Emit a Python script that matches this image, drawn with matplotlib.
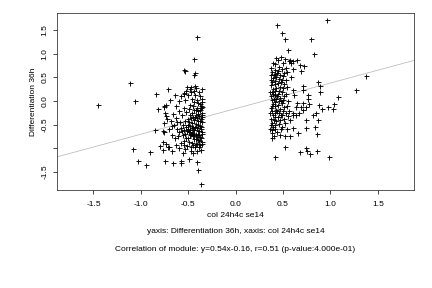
import matplotlib
matplotlib.use("Agg")
import matplotlib.pyplot as plt

plt.rcParams['font.family'] = ['Liberation Sans', 'DejaVu Sans']
plt.rcParams['axes.unicode_minus'] = False

# left cluster (col 24h4c se14 around -0.45)
left_pts = [
    (-1.45, -0.09), (-1.11, 0.38), (-1.06, 0.00), (-1.08, -1.01), (-1.03, -1.27), (-0.95, -1.34),
    (-0.90, -1.08), (-0.84, 0.15), (-0.82, -0.17), (-0.85, -0.61), (-0.76, -0.11), (-0.75, -1.27),
    (-0.71, 0.25), (-0.77, -0.87), (-0.77, -1.03), (-0.66, -1.31), (-0.58, -1.26), (-0.58, -1.30),
    (-0.49, -1.22), (-0.45, -1.10), (-0.41, -1.28), (-0.40, -1.46), (-0.37, -1.74), (-0.41, 1.34),
    (-0.44, 0.89), (-0.54, 0.66), (-0.53, 0.63), (-0.43, 0.60), (-0.44, 0.55),
    (-0.51, 0.30), (-0.47, 0.30), (-0.43, 0.32), (-0.64, 0.13), (-0.54, 0.16), (-0.69, 0.02),
    (-0.73, -0.08), (-0.76, -0.12), (-0.75, -0.26), (-0.63, -0.10), (-0.62, -0.44), (-0.76, -0.47),
    (-0.77, -0.63), (-0.76, -0.66), (-0.74, -0.31), (-0.67, -0.53), (-0.67, -0.72), (-0.80, -0.95),
    (-0.71, -0.97),
    (-0.36, -0.02), (-0.37, -0.10), (-0.38, -0.18), (-0.36, -0.25), (-0.39, -0.31), (-0.37, -0.38),
    (-0.36, -0.45), (-0.38, -0.52), (-0.37, -0.60), (-0.36, -0.66), (-0.39, -0.72), (-0.37, -0.79),
    (-0.36, -0.86), (-0.38, -0.93), (-0.40, -0.05), (-0.41, -0.14), (-0.40, -0.22), (-0.42, -0.29),
    (-0.41, -0.36), (-0.40, -0.43), (-0.42, -0.49), (-0.41, -0.56), (-0.40, -0.63), (-0.42, -0.69),
    (-0.41, -0.76), (-0.40, -0.83), (-0.42, -0.90), (-0.39, -0.97), (-0.44, -0.02), (-0.45, -0.11),
    (-0.44, -0.19), (-0.46, -0.26), (-0.45, -0.33), (-0.44, -0.40), (-0.46, -0.47), (-0.45, -0.54),
    (-0.44, -0.61), (-0.46, -0.68), (-0.45, -0.74), (-0.44, -0.81), (-0.46, -0.88), (-0.48, -0.08),
    (-0.49, -0.17), (-0.48, -0.30), (-0.50, -0.38), (-0.49, -0.45), (-0.48, -0.52), (-0.50, -0.59),
    (-0.49, -0.66), (-0.48, -0.72), (-0.50, -0.79), (-0.49, -0.86), (-0.52, -0.24), (-0.53, -0.42),
    (-0.52, -0.55), (-0.54, -0.62), (-0.53, -0.70), (-0.52, -0.77), (-0.54, -0.84), (-0.56, -0.50),
    (-0.57, -0.63), (-0.56, -0.71), (-0.58, -0.57), (-0.60, -0.66), (-0.61, -0.74), (-0.59, -0.45),
    (-0.62, -0.58), (-0.64, -0.79), (-0.63, -0.36), (-0.57, -0.30), (-0.55, -0.15), (-0.60, -0.22),
    (-0.66, -0.28), (-0.68, -0.42), (-0.65, -0.50), (-0.70, -0.60), (-0.72, -0.38), (-0.63, -0.92),
    (-0.58, -0.88), (-0.55, -0.93), (-0.51, -0.95), (-0.47, -0.98), (-0.43, -0.97), (-0.37, -1.03),
    (-0.41, -1.06), (-0.35, -0.70), (-0.35, -0.30), (-0.35, -0.12), (-0.36, 0.05), (-0.38, 0.10),
    (-0.41, 0.03), (-0.43, 0.12), (-0.46, 0.04), (-0.39, 0.18), (-0.42, 0.28), (-0.47, 0.20),
    (-0.50, 0.12), (-0.53, 0.02), (-0.55, 0.15), (-0.58, 0.10), (-0.60, 0.00), (-0.48, 0.26),
    (-0.52, 0.22), (-0.36, 0.25), (-0.44, 0.22),
    (-0.37, -0.55), (-0.38, -0.42), (-0.39, -0.64), (-0.40, -0.28), (-0.43, -0.55), (-0.44, -0.72),
    (-0.37, -0.14), (-0.39, -0.85), (-0.42, -0.80), (-0.45, -0.62), (-0.47, -0.36), (-0.47, -0.70),
    (-0.51, -0.64), (-0.50, -0.50), (-0.36, -0.33), (-0.38, -0.75), (-0.40, -0.50), (-0.43, -0.33),
    (-0.46, -0.57), (-0.48, -0.62), (-0.41, -0.90), (-0.45, -0.92), (-0.38, -0.06), (-0.42, -0.18),
    (-0.36, -0.90), (-0.40, -0.72),
    (-0.47, -1.05), (-0.53, -1.02), (-0.60, -1.00), (-0.67, -1.05), (-0.70, -0.97), (-0.74, -0.90),
    (-0.56, -1.10),
]

# right cluster (around +0.45)
right_pts = [
    (0.37, 0.70), (0.38, 0.62), (0.37, 0.55), (0.39, 0.48), (0.38, 0.40), (0.37, 0.33), (0.39, 0.26),
    (0.38, 0.18), (0.37, 0.10), (0.38, 0.02), (0.39, -0.06), (0.37, -0.14), (0.38, -0.22), (0.39, -0.30),
    (0.37, -0.38), (0.38, -0.46), (0.39, -0.55), (0.38, -0.62), (0.41, 0.78), (0.42, 0.66), (0.41, 0.58),
    (0.43, 0.50), (0.42, 0.43), (0.41, 0.36), (0.43, 0.28), (0.42, 0.21), (0.41, 0.13), (0.43, 0.05),
    (0.42, -0.03), (0.41, -0.10), (0.43, -0.18), (0.42, -0.26), (0.41, -0.34), (0.43, -0.42),
    (0.42, -0.50), (0.41, -0.58), (0.45, 0.86), (0.46, 0.72), (0.45, 0.63), (0.47, 0.55), (0.46, 0.46),
    (0.45, 0.38), (0.47, 0.30), (0.46, 0.22), (0.45, 0.15), (0.47, 0.07), (0.46, -0.01), (0.45, -0.09),
    (0.47, -0.17), (0.46, -0.25), (0.45, -0.33), (0.47, -0.41), (0.46, -0.49), (0.50, 0.80), (0.49, 0.68),
    (0.51, 0.60), (0.50, 0.52), (0.49, 0.44), (0.51, 0.35), (0.50, 0.27), (0.49, 0.19), (0.51, 0.11),
    (0.50, 0.03), (0.49, -0.05), (0.51, -0.13), (0.50, -0.21), (0.49, -0.29), (0.51, -0.38), (0.53, 0.70),
    (0.54, 0.62), (0.53, 0.45), (0.54, 0.30), (0.53, 0.15), (0.55, 0.00), (0.54, -0.10), (0.53, -0.25),
    (0.55, -0.32), (0.37, 0.45), (0.39, 0.15), (0.38, -0.10), (0.40, 0.55), (0.40, 0.05), (0.40, -0.40),
    (0.44, 0.60), (0.44, 0.10), (0.44, -0.22), (0.48, 0.40), (0.48, 0.00), (0.48, -0.30), (0.39, 0.80),
    (0.43, 0.90), (0.48, 0.92), (0.52, 0.88), (0.56, 0.85), (0.58, 0.80), (0.37, -0.50), (0.38, -0.68),
    (0.40, -0.73), (0.44, -0.65), (0.48, -0.60), (0.36, -0.60), (0.36, 0.20), (0.36, -0.25),
    (0.44, 1.60), (0.49, 1.43), (0.52, 1.30), (0.80, 1.30), (0.55, 1.08), (0.83, 1.00), (0.96, 1.71),
    (1.37, 0.53), (1.27, 0.23), (1.08, 0.08), (1.04, -0.06), (1.03, -0.16), (0.97, -0.12), (0.91, -0.16),
    (0.88, -0.08), (0.87, 0.41), (0.89, 0.32), (0.89, 0.18), (0.71, 0.32), (0.71, 0.23), (0.76, 0.13),
    (0.76, 0.04), (0.77, -0.06), (0.85, -0.26), (0.82, -0.30), (0.87, -0.39), (0.74, -0.40), (0.84, -0.55),
    (0.86, -0.70), (0.74, -0.56), (0.60, -0.56), (0.66, -0.68), (0.57, -0.73), (0.52, -0.74), (0.47, -0.71),
    (0.49, -0.54), (0.52, -0.96), (0.38, -0.79), (0.41, -1.17), (0.68, -1.08), (0.74, -1.00), (0.75, -1.05),
    (0.78, -1.12), (0.86, -1.06), (0.98, -1.17), (0.57, 0.87), (0.60, 0.84), (0.65, 0.86), (0.68, 0.77),
    (0.72, 0.74), (0.69, 0.64), (0.61, 0.67), (0.58, 0.51), (0.61, 0.23), (0.62, 0.13), (0.65, -0.05),
    (0.64, -0.12), (0.71, -0.05), (0.74, -0.12), (0.69, -0.12), (0.71, -0.19), (0.67, -0.26), (0.64, -0.30),
    (0.60, -0.26), (0.56, -0.22), (0.57, -0.40), (0.61, -0.30), (0.52, -0.47), (0.54, -0.58),
]

xs = [p[0] for p in left_pts + right_pts]
ys = [p[1] for p in left_pts + right_pts]

slope = 0.54
intercept = -0.16

fig = plt.figure(figsize=(6, 4), dpi=72)
ax = fig.add_axes([0.133, 0.340, 0.825, 0.616])

ax.axline((0, intercept), slope=slope, color='#bdbdbd', lw=0.8, zorder=1)
ax.plot(xs, ys, linestyle='none', marker='+', color='black', ms=5, mew=0.9, zorder=2)

ax.set_xlim(-1.88, 1.88)
ax.set_ylim(-1.878, 1.863)

ax.set_xticks([-1.5, -1.0, -0.5, 0.0, 0.5, 1.0, 1.5])
ax.set_xticklabels(['-1.5', '-1.0', '-0.5', '0.0', '0.5', '1.0', '1.5'])
ax.set_yticks([1.5, 1.0, 0.5, 0.0, -0.5, -1.0, -1.5])
ax.set_yticklabels(['1.5', '1.0', '0.5', '0.0', '-0.5', '', '-1.5'], rotation=90, va='center')

fs = 8.4
ax.tick_params(axis='both', direction='out', length=4, width=0.7, labelsize=fs, pad=5)
ax.tick_params(axis='x', pad=7)
for s in ax.spines.values():
    s.set_linewidth(0.8)
    s.set_color('#333333')

ax.set_xlabel('col 24h4c se14', fontsize=fs, labelpad=4)
ax.set_ylabel('Differentiation 36h', fontsize=fs, labelpad=4)

fig.text(0.545, 0.196, 'yaxis: Differentiation 36h, xaxis: col 24h4c se14',
         ha='center', va='center', fontsize=fs)
fig.text(0.545, 0.135, 'Correlation of module: y=0.54x-0.16, r=0.51 (p-value:4.000e-01)',
         ha='center', va='center', fontsize=fs)

fig.savefig('out.png', dpi=72)
